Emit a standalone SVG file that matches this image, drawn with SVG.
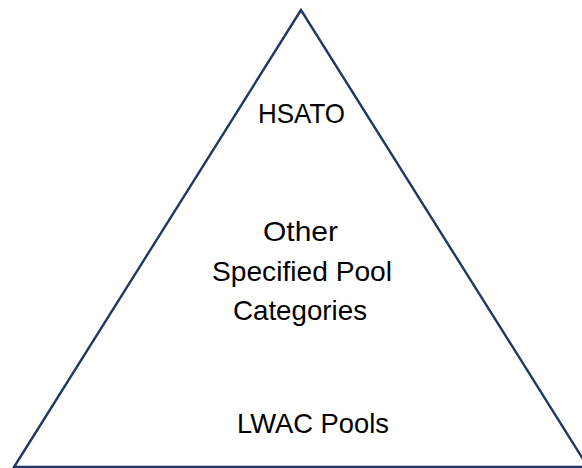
<svg xmlns="http://www.w3.org/2000/svg" width="582" height="468" viewBox="0 0 582 468">
<style>
.lbl{font-family:"Liberation Sans",Arial,sans-serif;font-size:28px;fill:#000}
.tri{fill:none;stroke:#203864;stroke-width:2.4}
</style>
<rect width="582" height="468" fill="#fff"/>
<g id="pyramid">
<polygon class="tri" points="301,10 14,467 588,467"/>
</g>
<g id="hsato"><text class="lbl" x="258" y="123" textLength="87" lengthAdjust="spacingAndGlyphs">HSATO</text></g>
<g id="other">
<text class="lbl" x="263" y="240.5" textLength="75" lengthAdjust="spacingAndGlyphs">Other</text>
<text class="lbl" x="212" y="281" textLength="180" lengthAdjust="spacingAndGlyphs">Specified Pool</text>
<text class="lbl" x="233" y="320" textLength="134" lengthAdjust="spacingAndGlyphs">Categories</text>
</g>
<g id="lwac"><text class="lbl" x="237" y="433" textLength="152" lengthAdjust="spacingAndGlyphs">LWAC Pools</text></g>
<g id="connectors"></g>
</svg>
